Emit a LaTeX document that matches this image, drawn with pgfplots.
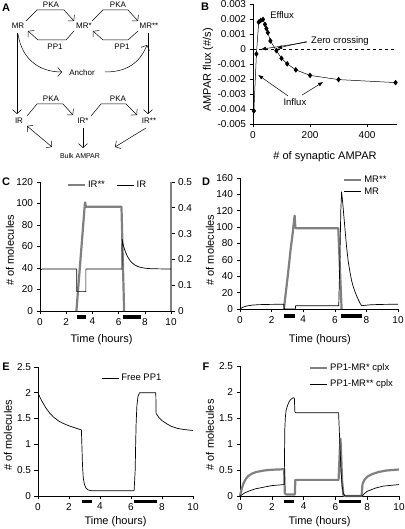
\documentclass[border=0pt]{standalone}
\usepackage{fontspec}
\setmainfont{Liberation Sans}
\usepackage{pgfplots}
\pgfplotsset{compat=1.18}
\usetikzlibrary{arrows.meta}
\definecolor{thickgray}{RGB}{128,128,128}
\pgfplotsset{
  base/.style={
    scale only axis,
    axis line style={-, line width=0.6pt},
    tick align=outside,
    major tick length=3.5pt,
    tick style={line width=0.6pt, black},
    /pgf/number format/assume math mode=true,
    tick label style={font=\fontsize{10}{11}\selectfont},
    label style={font=\fontsize{11}{12}\selectfont},
    legend style={draw=none, fill=none, font=\fontsize{9.5}{10}\selectfont},
    legend cell align=left,
    clip=false,
  },
  timeax/.style={
    base, xmin=0, xmax=10, xtick={0,2,4,6,8,10}, axis x line*=bottom, axis y line*=left,
    xlabel={Time (hours)}, ylabel={\# of molecules},
  },
  thickg/.style={thickgray, line width=2.2pt, line join=round},
  thinb/.style={black, line width=0.7pt, line join=round},
  bar/.style={black, line width=3.2pt},
}
\begin{document}
\begin{tikzpicture}[x=1pt,y=1pt]
\path[use as bounding box] (0pt,0pt) rectangle (404pt,529pt);

% ---------------- Panel A (diagram) ----------------
\begin{scope}[shift={(0pt,529pt)}, yscale=-1, every node/.style={font=\fontsize{8}{9}\selectfont, inner sep=0.5pt},
  ar/.style={line width=0.5pt, -{Straight Barb[length=4pt,width=9pt]}}]
\node at (18,26) {MR};
\node at (84,26) {MR*};
\node at (149,26) {MR**};
\node at (51,5) {PKA};
\node at (118,5) {PKA};
\node at (55,47) {PP1};
\node at (122,47) {PP1};
\node at (82,73) {Anchor};
\node at (19,121) {IR};
\node at (83,121) {IR*};
\node at (149,121) {IR**};
\node at (51,99) {PKA};
\node at (118,99) {PKA};
\node[font=\fontsize{7}{8}\selectfont] at (80,156) {Bulk AMPAR};
\draw[ar] (26,21) -- (37,10) -- (64,10) -- (74,21);
\draw[ar] (74,31) -- (66,40) -- (38,40) -- (28,31);
\draw[ar] (92,21) -- (103,10) -- (128,10) -- (138,21);
\draw[ar] (138,31) -- (128,40) -- (103,40) -- (93,31);
\draw[ar] (17,33) -- (17,114);
\draw[ar] (148,33) -- (148,114);
\draw[ar] (18,34) .. controls (22,60) and (40,72) .. (62,72);
\draw[ar] (105,72) .. controls (128,72) and (140,62) .. (147,45);
\draw[ar] (27,116) -- (37,104) -- (63,104) -- (73,115);
\draw[ar] (91,116) -- (101,104) -- (126,104) -- (137,115);
\draw[line width=0.5pt, {Straight Barb[length=4pt,width=9pt]}-{Straight Barb[length=4pt,width=9pt]}] (27,126) -- (52,147);
\draw[ar] (83,128) -- (83,148);
\draw[ar] (146,128) -- (115,147);
\end{scope}

% ---------------- Panel B ----------------
\begin{axis}[base, at={(253pt,405pt)}, anchor=south west, width=144pt, height=120pt,
  xmin=0, xmax=505, ymin=-0.005, ymax=0.003,
  axis x line*=bottom, axis y line*=left,
  xtick={0,200,400},
  ytick={-0.005,-0.004,-0.003,-0.002,-0.001,0,0.001,0.002,0.003},
  yticklabels={-0.005,-0.004,-0.003,-0.002,-0.001,0,0.001,0.002,0.003},
  scaled y ticks=false,
  xlabel={\# of synaptic AMPAR}, ylabel={AMPAR flux (\#/s)},
  xlabel style={at={(rel axis cs:0.5,-0.275)}, anchor=center},
  ylabel style={at={(rel axis cs:-0.3125,0.45)}, anchor=center},
]
\addplot[black, dashed, line width=0.5pt] coordinates {(0,0) (505,0)};
\addplot[black, line width=0.5pt, mark=diamond*, mark size=2.4pt] coordinates {
(3,-0.00413) (12,-0.00033) (20,0.00179) (27,0.0019) (35,0.00197) (42,0.00164)
(47,0.00136) (52,0.00109) (61,0.00054) (82,-0.00011) (100,-0.00062) (120,-0.00099)
(150,-0.00139) (200,-0.00176) (300,-0.00204) (500,-0.00224)};
\node[font=\fontsize{9.5}{10}\selectfont] at (axis cs:102,0.00227) {Efflux};
\node[font=\fontsize{9.5}{10}\selectfont] at (axis cs:305,0.00053) {Zero crossing};
\node[font=\fontsize{9.5}{10}\selectfont] at (axis cs:147,-0.00353) {Influx};
\draw[line width=0.5pt, -{Latex[length=5pt,width=4pt]}] (axis cs:188,0.00045) -- (axis cs:28,-0.00002);
\draw[line width=0.5pt, -{Latex[length=5pt,width=4pt]}] (axis cs:188,0.0005) -- (axis cs:84,0.00005);
\draw[line width=0.5pt, -{Latex[length=5pt,width=4pt]}] (axis cs:123,-0.00313) -- (axis cs:18,-0.00173);
\draw[line width=0.5pt, -{Latex[length=5pt,width=4pt]}] (axis cs:172,-0.00307) -- (axis cs:246,-0.0022);
\end{axis}

% ---------------- Panel C ----------------
\begin{axis}[timeax, at={(40pt,218pt)}, anchor=south west, width=131pt, height=129pt,
  ymin=0, ymax=120, ytick={0,20,...,120},
  xlabel style={at={(rel axis cs:0.47,-0.225)}, anchor=center},
  ylabel style={at={(rel axis cs:-0.229,0.47)}, anchor=center},
  legend columns=2,
  legend style={at={(rel axis cs:0.515,0.975)}, anchor=center, /tikz/every even column/.append style={column sep=10pt}},
]
\addplot[thickg] coordinates {(2.78,0) (3.42,99) (3.45,101) (3.5,97) (6.22,97) (6.42,0)};
\addlegendentry{IR**}
\addlegendimage{thinb}
\addlegendentry{IR}
\addplot[bar] coordinates {(2.8,-5.6) (3.5,-5.6)};
\addplot[bar] coordinates {(6.3,-5.6) (7.7,-5.6)};
\end{axis}
\begin{axis}[base, at={(40pt,218pt)}, anchor=south west, width=131pt, height=129pt,
  xmin=0, xmax=10, ymin=0, ymax=0.5, ytick={0,0.1,...,0.5},
  axis y line*=right, axis x line=none,
  y axis line style={thickgray, line width=1.1pt},
]
\addplot[thinb] coordinates {(0,0.158) (0.15,0.1625) (2.8,0.1625) (2.8,0.075) (3.5,0.075) (3.5,0.1625)
(6.25,0.1625) (6.27,0.2775) (6.35,0.2567) (6.45,0.2396) (6.55,0.2256) (6.7,0.2093) (6.85,0.1971)
(7.0,0.1881) (7.2,0.1797) (7.4,0.1740) (7.6,0.1702) (7.8,0.1677) (8.1,0.1654) (8.5,0.1638) (10,0.1625)};
\end{axis}

% ---------------- Panel D ----------------
\begin{axis}[timeax, at={(240pt,220pt)}, anchor=south west, width=158pt, height=131pt,
  ymin=0, ymax=160, ytick={0,20,...,160},
  xlabel style={at={(rel axis cs:0.506,-0.237)}, anchor=center},
  ylabel style={at={(rel axis cs:-0.19,0.45)}, anchor=center},
  legend style={at={(rel axis cs:0.96,1.05)}, anchor=north east},
]
\addplot[thickg] coordinates {(2.78,0) (2.9,20) (3.05,45) (3.2,72) (3.35,95) (3.43,110) (3.46,114)
(3.5,100) (3.55,98.5) (6.22,98.5) (6.43,0)};
\addlegendentry{MR**}
\addplot[thinb] coordinates {(0,0) (0.15,1.8) (0.3,3.0) (0.5,4.0) (0.8,4.8) (1.2,5.3) (1.8,5.6) (2.78,5.8)
(2.8,0) (3.5,0) (3.52,4) (6.25,4) (6.32,60) (6.38,120) (6.43,143) (6.5,130) (6.58,112) (6.67,92) (6.75,75)
(6.85,58) (6.96,45) (7.06,35) (7.17,27) (7.28,21) (7.38,16) (7.5,11) (7.6,7) (7.7,4) (7.9,4.5) (8.3,5.2)
(9,5.6) (10,5.8)};
\addlegendentry{MR}
\addplot[bar] coordinates {(2.8,-8.5) (3.5,-8.5)};
\addplot[bar] coordinates {(6.4,-8.5) (7.7,-8.5)};
\end{axis}

% ---------------- Panel E ----------------
\begin{axis}[timeax, at={(38pt,33pt)}, anchor=south west, width=155pt, height=129pt,
  ymin=0, ymax=2.5, ytick={0,0.5,...,2.5},
  xlabel style={at={(rel axis cs:0.5,-0.2)}, anchor=center},
  ylabel style={at={(rel axis cs:-0.194,0.47)}, anchor=center},
  legend style={at={(rel axis cs:0.83,0.915)}, anchor=east},
]
\addplot[thinb] coordinates {(0,2.0) (0.1,1.93) (0.25,1.84) (0.5,1.71) (0.75,1.61) (1.0,1.53) (1.3,1.46)
(1.6,1.41) (2.0,1.36) (2.4,1.32) (2.8,1.28) (2.83,1.0) (2.87,0.6) (2.92,0.35) (3.0,0.22) (3.1,0.15)
(3.25,0.115) (3.5,0.1) (6.2,0.1) (6.27,0.5) (6.3,1.0) (6.33,1.4) (6.38,1.75) (6.45,1.93) (6.55,2.0)
(7.6,2.0) (7.62,1.6) (7.8,1.52) (8.0,1.46) (8.3,1.4) (8.6,1.35) (9.0,1.31) (9.5,1.285) (10,1.27)};
\addlegendentry{Free PP1}
\addplot[bar] coordinates {(2.84,-0.1) (3.48,-0.1)};
\addplot[bar] coordinates {(6.2,-0.1) (7.68,-0.1)};
\end{axis}

% ---------------- Panel F ----------------
\begin{axis}[timeax, at={(240pt,33pt)}, anchor=south west, width=159pt, height=130pt,
  ymin=0, ymax=2.5, ytick={0,0.5,...,2.5},
  xlabel style={at={(rel axis cs:0.5,-0.2)}, anchor=center},
  ylabel style={at={(rel axis cs:-0.189,0.47)}, anchor=center},
  legend style={at={(rel axis cs:0.995,1.05)}, anchor=north east, /tikz/row sep=4pt},
]
\addplot[thickg] coordinates {(0,0) (0.1,0.13) (0.2,0.23) (0.35,0.32) (0.5,0.38) (0.75,0.43) (1.0,0.46)
(1.5,0.49) (2.0,0.505) (2.78,0.515) (2.82,0.05) (2.9,0.03) (3.45,0.03) (3.48,0.31) (6.2,0.31) (6.28,0.9)
(6.32,1.1) (6.36,0.8) (6.42,0.3) (6.5,0.02) (6.6,0) (7.65,0) (7.7,0.22) (7.8,0.3) (8.0,0.37) (8.3,0.42)
(8.7,0.46) (9.2,0.49) (10,0.51)};
\addlegendentry{PP1-MR* cplx}
\addplot[thinb] coordinates {(0,0) (0.3,0.06) (0.6,0.1) (1.0,0.14) (1.5,0.17) (2.0,0.2) (2.78,0.22) (2.8,0.8)
(2.82,1.3) (2.85,1.5) (2.9,1.65) (3.0,1.75) (3.1,1.82) (3.2,1.86) (3.35,1.89) (3.42,1.88) (3.45,1.62)
(3.5,1.6) (6.2,1.6) (6.28,1.0) (6.35,0.5) (6.42,0.2) (6.5,0.05) (6.6,0) (7.7,0) (7.8,0.04) (8.0,0.09)
(8.5,0.15) (9,0.19) (10,0.22)};
\addlegendentry{PP1-MR** cplx}
\addplot[bar] coordinates {(2.78,-0.1) (3.42,-0.1)};
\addplot[bar] coordinates {(6.25,-0.1) (7.62,-0.1)};
\end{axis}

% panel letters
\begin{scope}[every node/.style={font=\bfseries\fontsize{11}{12}\selectfont, inner sep=0pt}]
\node at (6pt,521pt) {A};
\node at (205pt,522pt) {B};
\node at (6pt,347pt) {C};
\node at (206pt,347pt) {D};
\node at (6pt,162pt) {E};
\node at (206pt,162pt) {F};
\end{scope}
\end{tikzpicture}
\end{document}
